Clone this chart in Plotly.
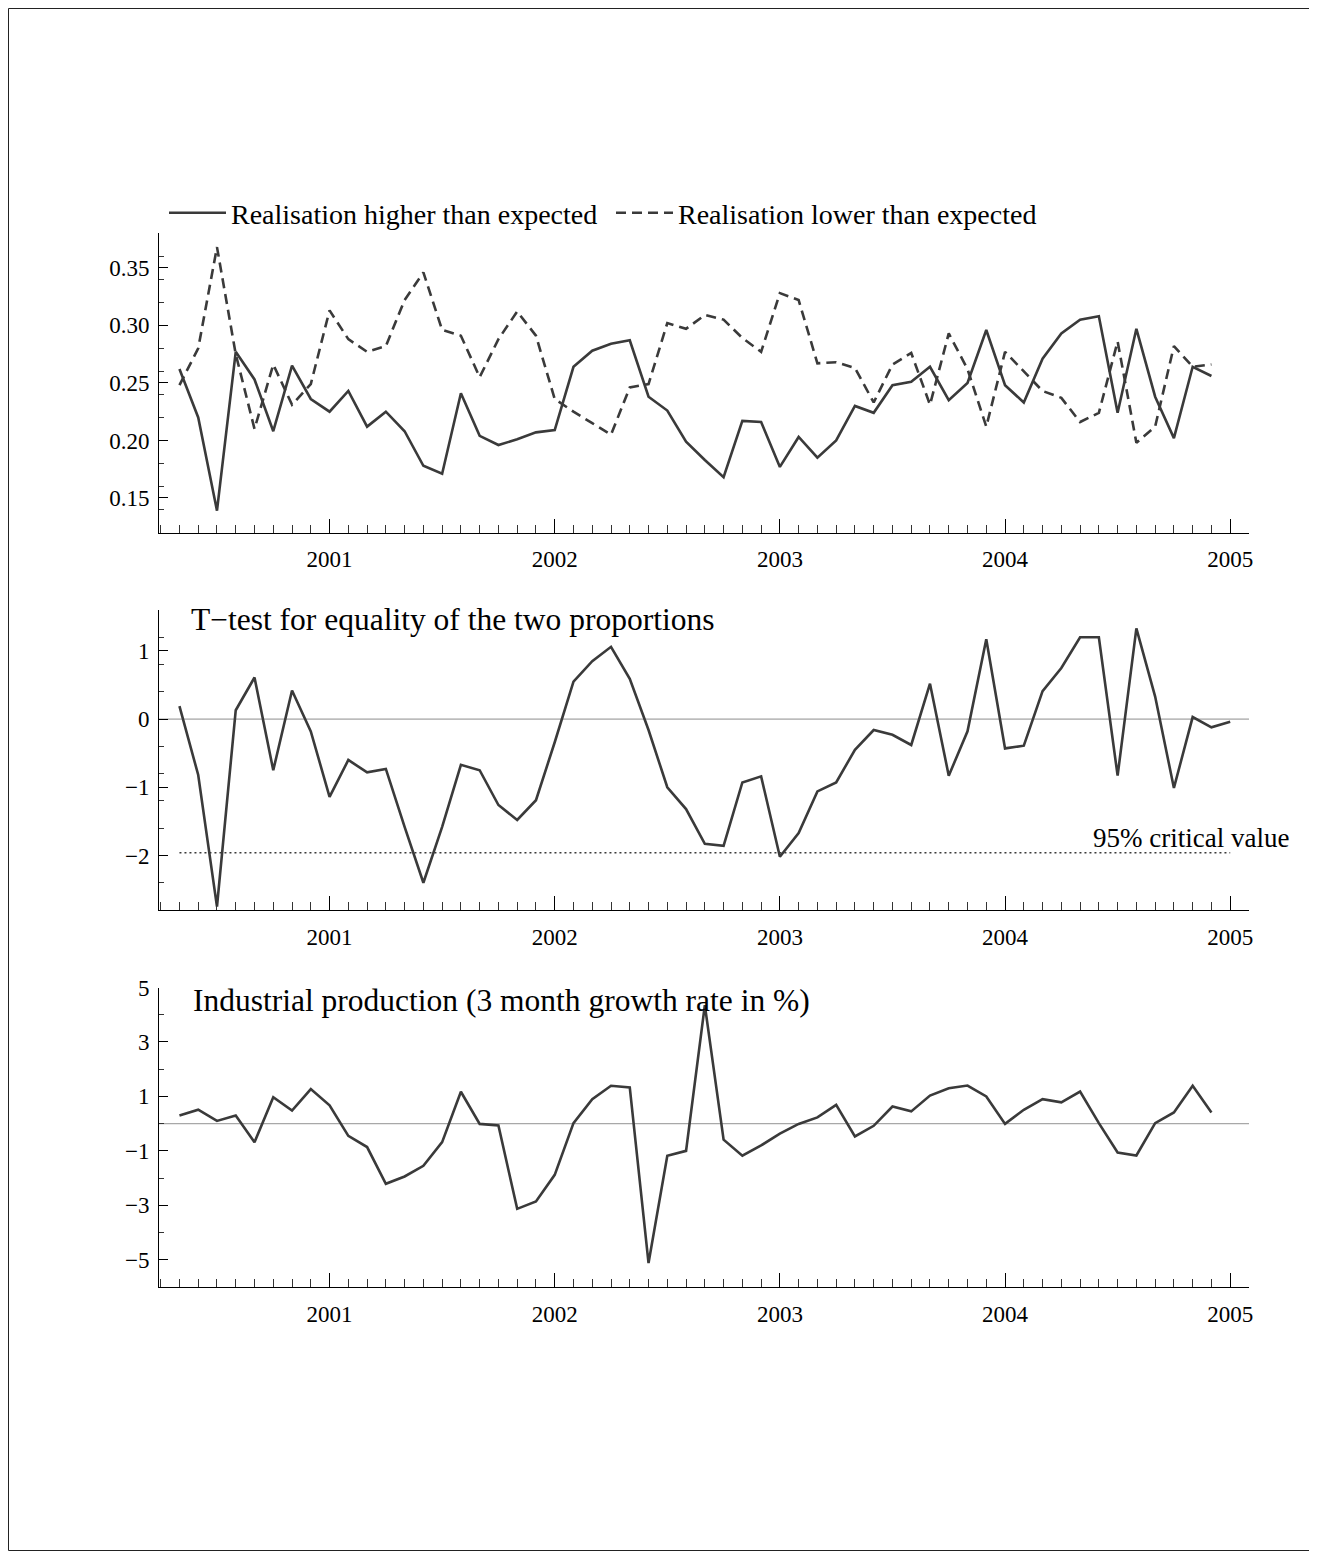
import pandas as pd
import plotly.graph_objects as go

# ---------------- data ----------------
months_top = [str(p) for p in pd.period_range("2000-05", "2004-12", freq="M")]
months_mid = [str(p) for p in pd.period_range("2000-05", "2005-01", freq="M")]
months_bot = [str(p) for p in pd.period_range("2000-05", "2004-12", freq="M")]

higher = [0.262, 0.220, 0.139, 0.277, 0.253, 0.208, 0.265, 0.236,
          0.225, 0.243, 0.212, 0.225, 0.208, 0.178, 0.171, 0.241, 0.204, 0.196, 0.201, 0.207,
          0.209, 0.264, 0.278, 0.284, 0.287, 0.238, 0.226, 0.199, 0.183, 0.168, 0.217, 0.216,
          0.177, 0.203, 0.185, 0.200, 0.230, 0.224, 0.248, 0.251, 0.264, 0.235, 0.250, 0.296,
          0.248, 0.233, 0.271, 0.293, 0.305, 0.308, 0.224, 0.297, 0.238, 0.202, 0.264, 0.256]

lower = [0.248, 0.280, 0.368, 0.275, 0.210, 0.266, 0.231, 0.249,
         0.313, 0.288, 0.277, 0.282, 0.322, 0.346, 0.296, 0.291, 0.255, 0.288, 0.312, 0.291,
         0.236, 0.225, 0.215, 0.205, 0.246, 0.249, 0.302, 0.297, 0.309, 0.305, 0.289, 0.277,
         0.328, 0.322, 0.267, 0.268, 0.263, 0.233, 0.266, 0.276, 0.231, 0.293, 0.262, 0.212,
         0.277, 0.260, 0.243, 0.237, 0.216, 0.224, 0.286, 0.198, 0.212, 0.282, 0.264, 0.266]

ttest = [0.19, -0.82, -2.75, 0.13, 0.61, -0.75, 0.42, -0.18,
         -1.14, -0.60, -0.78, -0.73, -1.58, -2.40, -1.58, -0.67, -0.75, -1.26, -1.48, -1.19,
         -0.34, 0.55, 0.85, 1.06, 0.59, -0.16, -1.00, -1.32, -1.83, -1.86, -0.93, -0.84,
         -2.02, -1.67, -1.06, -0.93, -0.45, -0.16, -0.23, -0.38, 0.52, -0.83, -0.18, 1.17,
         -0.43, -0.39, 0.41, 0.75, 1.20, 1.20, -0.83, 1.33, 0.33, -1.01, 0.03, -0.12,
         -0.04]

critical_value = -1.96

indprod = [0.30, 0.51, 0.10, 0.30, -0.68, 0.97, 0.48, 1.27,
           0.67, -0.45, -0.86, -2.21, -1.94, -1.55, -0.68, 1.17, -0.01, -0.07, -3.13, -2.86,
           -1.88, 0.02, 0.90, 1.39, 1.33, -5.12, -1.18, -1.00, 4.35, -0.59, -1.18, -0.80,
           -0.37, -0.01, 0.23, 0.69, -0.47, -0.08, 0.63, 0.45, 1.03, 1.30, 1.40, 1.00,
           -0.01, 0.51, 0.90, 0.78, 1.18, 0.02, -1.06, -1.17, 0.02, 0.41, 1.39, 0.41]

year_ticks = [2001, 2002, 2003, 2004, 2005]
year_labels = ["2001", "2002", "2003", "2004", "2005"]


def dec_year(m):
    y, mo = m.split("-")
    return int(y) + (int(mo) - 1) / 12.0


x_top = [dec_year(m) for m in months_top]
x_mid = [dec_year(m) for m in months_mid]
x_bot = [dec_year(m) for m in months_bot]

# ---------------- geometry ----------------
# The page body adds an 8px offset; everything below is given in page pixels
OFF = 8
W, H = 1317 - OFF, 1551 - OFF
PL, PR = 159, 1249            # plot area left/right (page px)
PW = PR - PL
FONT = "Liberation Serif"
LINE = "#3a3a3a"


def py(page_y):               # page y -> paper fraction
    return 1 - (page_y - OFF) / H


def px(page_x):               # page x -> paper fraction
    return (page_x - PL) / PW


def dom(top_px, bot_px):
    return [py(bot_px), py(top_px)]


fig = go.Figure()

fig.add_trace(go.Scatter(x=x_top, y=higher, mode="lines", name="Realisation higher than expected",
                         line=dict(color=LINE, width=2.6), xaxis="x", yaxis="y"))
fig.add_trace(go.Scatter(x=x_top, y=lower, mode="lines", name="Realisation lower than expected",
                         line=dict(color=LINE, width=2.6, dash="10px,6px"), xaxis="x", yaxis="y"))

fig.add_trace(go.Scatter(x=x_mid, y=ttest, mode="lines", showlegend=False,
                         line=dict(color=LINE, width=2.6), xaxis="x2", yaxis="y2"))
fig.add_trace(go.Scatter(x=[x_mid[0], x_mid[-1]], y=[critical_value, critical_value], mode="lines",
                         showlegend=False, line=dict(color=LINE, width=1.7, dash="2px,3px"),
                         xaxis="x2", yaxis="y2"))

fig.add_trace(go.Scatter(x=x_bot, y=indprod, mode="lines", showlegend=False,
                         line=dict(color=LINE, width=2.6), xaxis="x3", yaxis="y3"))

xr = [2000.2425, 2005.0835]


def xaxis_def(anchor):
    return dict(range=xr, anchor=anchor, domain=[0, 1], showgrid=False, zeroline=False,
                showline=True, linecolor="black", linewidth=1,
                tickmode="array", tickvals=year_ticks, ticktext=year_labels,
                ticks="inside", ticklen=14, tickcolor="black", tickwidth=1,
                ticklabelstandoff=6,
                minor=dict(ticks="inside", ticklen=8, tickcolor="#333", tickwidth=1,
                           tick0=2001, dtick=1 / 12.0, showgrid=False),
                tickfont=dict(family=FONT, size=23, color="black"))


def yaxis_def(anchor, dm, rng, tickvals, minor_dtick, fmt):
    return dict(range=rng, anchor=anchor, domain=dm, showgrid=False, zeroline=False,
                showline=True, linecolor="black", linewidth=1,
                tickmode="array", tickvals=tickvals, ticktext=[fmt(v) for v in tickvals],
                ticks="inside", ticklen=9, tickcolor="black", tickwidth=1,
                ticklabelstandoff=4,
                minor=dict(ticks="inside", ticklen=5, tickcolor="#333", tickwidth=1,
                           tick0=0, dtick=minor_dtick, showgrid=False),
                tickfont=dict(family=FONT, size=23, color="black"))


fmt_top = lambda v: f"{v:.2f}"
fmt_int = lambda v: f"{v:g}".replace("-", "\u2212")

fig.update_layout(
    width=W, height=H,
    paper_bgcolor="white", plot_bgcolor="white",
    margin=dict(l=PL - OFF, r=W - (PR - OFF), t=0, b=0, autoexpand=False),
    font=dict(family=FONT, color="black"),
    xaxis=xaxis_def("y"),
    yaxis=yaxis_def("x", dom(233.3, 532.5), [0.12, 0.38], [0.15, 0.20, 0.25, 0.30, 0.35], 0.02, fmt_top),
    xaxis2=xaxis_def("y2"),
    yaxis2=yaxis_def("x2", dom(610, 910), [-2.8, 1.6], [-2, -1, 0, 1], 0.4, fmt_int),
    xaxis3=xaxis_def("y3"),
    yaxis3=yaxis_def("x3", dom(987.5, 1287), [-6, 5], [-5, -3, -1, 1, 3, 5], 1, fmt_int),
    showlegend=True,
    legend=dict(orientation="h", x=px(164), xanchor="left",
                y=py(213), yanchor="middle",
                font=dict(family=FONT, size=28, color="black"),
                bgcolor="rgba(0,0,0,0)", entrywidth=375, entrywidthmode="pixels",
                itemwidth=57, tracegroupgap=0),
)

# zero reference lines
for xa, ya, col, wd in [("x2", "y2", "#8c8c8c", 1.0), ("x3", "y3", "#a8a8a8", 1.4)]:
    fig.add_shape(type="line", xref=f"{xa} domain", x0=0, x1=1, yref=ya, y0=0, y1=0,
                  line=dict(color=col, width=wd), layer="below")

# panel titles
fig.add_annotation(text="T\u2212test for equality of the two proportions", xref="paper", yref="paper",
                   x=px(189), y=py(619), xanchor="left", yanchor="middle",
                   showarrow=False, font=dict(family=FONT, size=31.5, color="black"))
fig.add_annotation(text="Industrial production (3 month growth rate in %)", xref="paper", yref="paper",
                   x=px(191), y=py(1000), xanchor="left", yanchor="middle",
                   showarrow=False, font=dict(family=FONT, size=31.5, color="black"))
fig.add_annotation(text="95% critical value", xref="paper", yref="paper",
                   x=px(1291), y=py(838), xanchor="right", yanchor="middle",
                   showarrow=False, font=dict(family=FONT, size=27, color="black"))

# outer frame (figure edges)
fig.add_shape(type="rect", xref="paper", yref="paper",
              x0=(0.5 - (PL - OFF)) / PW, x1=(W - 0.5 - (PL - OFF)) / PW,
              y0=0.5 / H, y1=1 - 0.5 / H,
              line=dict(color="#222", width=1), fillcolor="rgba(0,0,0,0)")

fig.write_html("out.html")
